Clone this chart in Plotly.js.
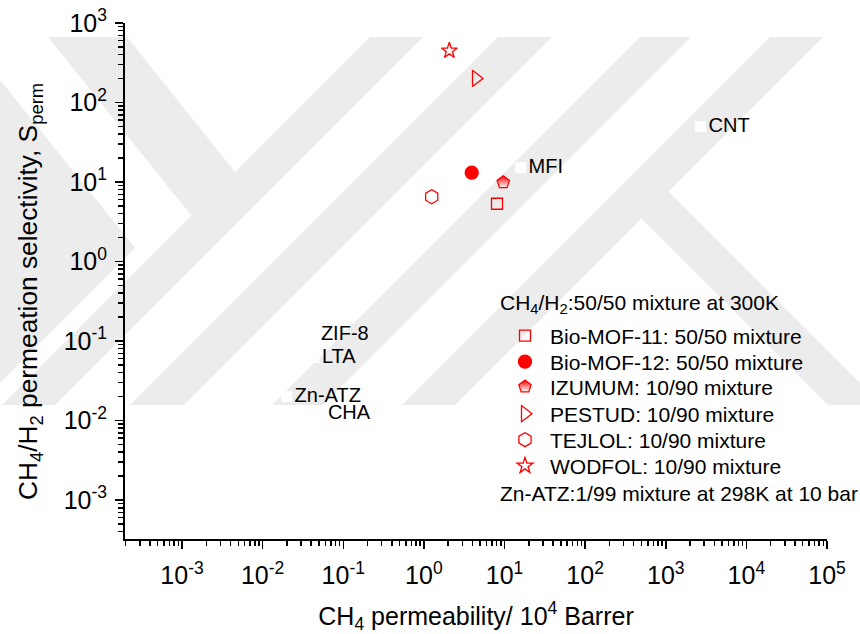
<!DOCTYPE html>
<html>
<head>
<meta charset="utf-8">
<script src="https://cdn.plot.ly/plotly-3.0.1.min.js"></script>
<style>
html,body{margin:0;padding:0;background:#ffffff;}
#wrap{position:relative;width:860px;height:634px;overflow:hidden;}
#wm{position:absolute;left:0;top:0;}
#chart{position:absolute;left:0;top:0;width:860px;height:634px;}
</style>
</head>
<body>
<div id="wrap">
<svg id="wm" width="860" height="634" xmlns="http://www.w3.org/2000/svg">
  <defs><clipPath id="wmclip"><rect x="0" y="37" width="860" height="368"/></clipPath></defs>
  <g clip-path="url(#wmclip)" fill="#ececec">
    <polygon points="370,37 423,37 55,405 2,405"/>
    <polygon points="498,37 552,37 184,405 130,405"/>
    <polygon points="640,37 691,37 323,405 272,405"/>
    <polygon points="770,37 823,37 455,405 402,405"/>
    <polygon points="48,37 127,37 235,172 215,245"/>
    <polygon points="0,80 135,248 0,383"/>
    <polygon points="626,203 653,176 882,405 828,405"/>
  </g>
</svg>
<div id="chart"></div>
</div>
<script>
// ---- data ----
const mofNames = [
  'Bio-MOF-11: 50/50 mixture',
  'Bio-MOF-12: 50/50 mixture',
  'IZUMUM: 10/90 mixture',
  'PESTUD: 10/90 mixture',
  'TEJLOL: 10/90 mixture',
  'WODFOL: 10/90 mixture'
];
const mofPerm = [8.07, 3.92, 9.66, 4.43, 1.25, 2.07];      // CH4 permeability / 1e4 Barrer
const mofSel  = [5.33, 13.1, 9.9, 201, 6.53, 449];          // CH4/H2 permeation selectivity

const refNames = ['MFI', 'CNT', 'ZIF-8', 'LTA', 'Zn-ATZ', 'CHA'];
const refPerm  = [15.9, 2710, 0.0422, 0.0434, 0.0199, 0.0515];
const refSel   = [15.1, 49.7, 0.119, 0.062, 0.020, 0.01225];

const legendTitle  = 'CH<sub>4</sub>/H<sub>2</sub>:50/50 mixture at 300K';
const legendFooter = 'Zn-ATZ:1/99 mixture at 298K at 10 bar';
const xTitle = 'CH<sub>4</sub> permeability/ 10<sup>4</sup> Barrer';
const yTitle = 'CH<sub>4</sub>/H<sub>2</sub> permeation selectivity, S<sub>perm</sub>';

// ---- styling ----
const RED = '#ff0000';
const FONT = 'Arial, "Liberation Sans", sans-serif';
const symbols = ['square-open', 'circle', 'pentagon', 'triangle-right-open', 'hexagon-open', 'star-open'];
const sizes = [11, 13, 13, 14, 14, 12];
const legendRowsPx = [336, 362, 387, 414, 440, 466];
const plotTop = 23, plotBottom = 539, plotLeft = 125, plotRight = 827;
const pyToPaper = py => (plotBottom - py) / (plotBottom - plotTop);
const pxToPaper = px => (px - plotLeft) / (plotRight - plotLeft);

const traces = [];
const layoutLegends = {};
mofNames.forEach((name, i) => {
  const legId = i === 0 ? 'legend' : 'legend' + (i + 1);
  const m = {
    symbol: symbols[i], size: sizes[i], color: RED,
    line: {color: RED, width: 1.3}
  };
  if (symbols[i] === 'pentagon') {
    m.gradient = {type: 'vertical', color: '#ffffff'};
  }
  traces.push({
    type: 'scatter', mode: 'markers', name: name,
    x: [mofPerm[i]], y: [mofSel[i]],
    marker: m, legend: legId, showlegend: true, cliponaxis: false
  });
  layoutLegends[legId] = {
    x: pxToPaper(500), y: pyToPaper(legendRowsPx[i]),
    xanchor: 'left', yanchor: 'middle',
    bgcolor: 'rgba(0,0,0,0)', borderwidth: 0,
    itemwidth: 40,
    font: {family: FONT, size: 21, color: '#000'}
  };
});

traces.push({
  type: 'scatter', mode: 'markers+text',
  x: refPerm, y: refSel, text: refNames,
  textposition: 'middle right',
  textfont: {family: FONT, size: 20, color: '#000'},
  marker: {symbol: 'square', size: 11, color: '#ffffff', line: {width: 0}},
  showlegend: false, cliponaxis: false, hoverinfo: 'skip'
});

const alias = {
  '1': '10<sup>0</sup>', '10': '10<sup>1</sup>',
  '10<sup>\u22121</sup>': '10<sup>-1</sup>',
  '10<sup>\u22122</sup>': '10<sup>-2</sup>',
  '10<sup>\u22123</sup>': '10<sup>-3</sup>'
};

const axisCommon = {
  type: 'log', showgrid: false, zeroline: false,
  showline: true, linecolor: '#000', linewidth: 2,
  ticks: 'outside', ticklen: 8, tickwidth: 1.5, tickcolor: '#000',
  tickmode: 'linear', tick0: 0, dtick: 1,
  exponentformat: 'power', showexponent: 'all',
  labelalias: alias,
  tickfont: {family: FONT, size: 20, color: '#000'},
  minor: {ticks: 'outside', ticklen: 5, tickwidth: 1.5, tickcolor: '#000', dtick: 'D1', showgrid: false},
  automargin: false, mirror: false
};

const layout = Object.assign({
  width: 860, height: 634,
  margin: {l: plotLeft, r: 860 - plotRight, t: plotTop, b: 634 - plotBottom, pad: 0},
  paper_bgcolor: 'rgba(0,0,0,0)', plot_bgcolor: 'rgba(0,0,0,0)',
  font: {family: FONT, color: '#000'},
  showlegend: true,
  xaxis: Object.assign({}, axisCommon, {
    range: [-3.707, 5],
    ticklabelstandoff: 6,
    title: {text: xTitle, font: {family: FONT, size: 25, color: '#000'}, standoff: 22}
  }),
  yaxis: Object.assign({}, axisCommon, {
    range: [-3.49, 3],
    ticklabelstandoff: 4
  }),
  annotations: [
    {text: yTitle, xref: 'paper', yref: 'paper', x: pxToPaper(30), y: pyToPaper(292),
     xanchor: 'center', yanchor: 'middle', textangle: -90, showarrow: false,
     font: {family: FONT, size: 26.3, color: '#000'}},
    {text: legendTitle, xref: 'paper', yref: 'paper', x: pxToPaper(498), y: pyToPaper(304),
     xanchor: 'left', yanchor: 'middle', showarrow: false, font: {family: FONT, size: 21, color: '#000'}},
    {text: legendFooter, xref: 'paper', yref: 'paper', x: pxToPaper(498), y: pyToPaper(493),
     xanchor: 'left', yanchor: 'middle', showarrow: false, font: {family: FONT, size: 21, color: '#000'}}
  ]
}, layoutLegends);

Plotly.newPlot('chart', traces, layout, {displayModeBar: false, staticPlot: true});
</script>
</body>
</html>
